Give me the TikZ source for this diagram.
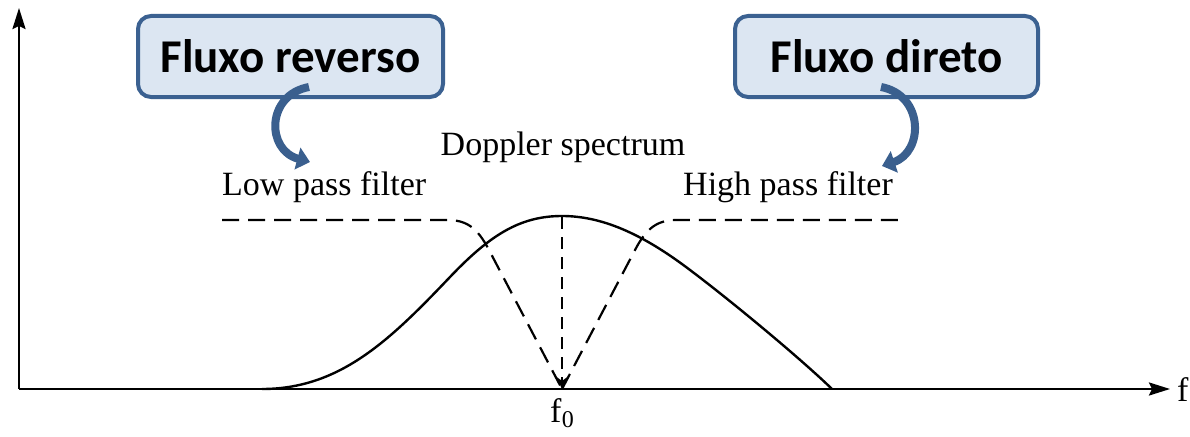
\documentclass[tikz,border=0pt]{standalone}
\usepackage{fontspec}
\setmainfont{Liberation Serif}
\newfontfamily\boxfont{Carlito}
\usetikzlibrary{arrows.meta}
\definecolor{boxfill}{HTML}{DCE6F2}
\definecolor{boxline}{HTML}{3B6191}
\definecolor{arrblue}{HTML}{3A5F8E}
\begin{document}
\begin{tikzpicture}[x=1pt,y=-1pt,
  flowbox/.style={draw=boxline, fill=boxfill, line width=4pt, rounded corners=13pt,
    minimum height=81pt, inner sep=0pt,
    font=\boxfont\bfseries\fontsize{47}{50}\selectfont},
  serlabel/.style={inner sep=0pt, font=\fontsize{34}{38}\selectfont},
  axisline/.style={line width=2.4pt, -{Stealth[length=21pt,width=13pt,inset=3pt]}},
  curvearrow/.style={draw=arrblue, line width=8pt, line cap=butt,
    -{Triangle[length=13pt,width=22pt]}},
  dashfilt/.style={line width=2.2pt, dash pattern=on 17pt off 9pt},
  dashvert/.style={line width=2.2pt, dash pattern=on 12pt off 8pt,
    -{Stealth[length=12pt,width=11pt]}},
  spectrum/.style={line width=2.4pt}]
\useasboundingbox (0,0) rectangle (1190,436);
% axes
\coordinate (O) at (19,389);
\coordinate (ytop) at (19,8);
\coordinate (xend) at (1170,389);
\draw[axisline] (O) -- (ytop);
\draw[axisline] (O) -- (xend);
\node[serlabel, anchor=base west] (flab) at (1177,401) {f};
\node[serlabel, anchor=north] (f0lab) at (562,398) {f\kern0.5pt\raisebox{-0.35ex}{\fontsize{24}{24}\selectfont 0}};
% spectrum
\draw[spectrum] (262,389) .. controls (340,389) and (390,340) .. (450,277)
  .. controls (490,235) and (520,216) .. (562,216)
  .. controls (600,216) and (640,232) .. (690,270)
  .. controls (730,300) and (800,358) .. (832,389);
% filters
\coordinate (peak) at (562,217);
\coordinate (f0) at (562,389);
\draw[dashfilt] (222,220) -- (447,220) .. controls (466,220) and (477,227) .. (489,250) -- (f0);
\draw[dashfilt] (f0) -- (635,250) .. controls (647,227) and (658,220) .. (677,220) -- (903,220);
\draw[dashvert] (peak) -- (f0);
% labels
\node[serlabel, anchor=base] (dop) at (563,155) {Doppler spectrum};
\node[serlabel, anchor=base west] (low) at (222,195) {Low pass filter};
\node[serlabel, anchor=base west] (high) at (683,195) {High pass filter};
% boxes
\node[flowbox, minimum width=305pt] (rev) at (290.5,56.5) {Fluxo reverso};
\node[flowbox, minimum width=303pt] (dir) at (886.5,56.5) {Fluxo direto};
% curved arrows
\coordinate (revS) at (309,87);
\coordinate (revE) at (310,162);
\coordinate (dirS) at (881,87);
\coordinate (dirE) at (882,166);
\draw[curvearrow] (revS) .. controls (266,95) and (266,150) .. (revE);
\draw[curvearrow] (dirS) .. controls (924,95) and (924,152) .. (dirE);
\end{tikzpicture}
\end{document}
